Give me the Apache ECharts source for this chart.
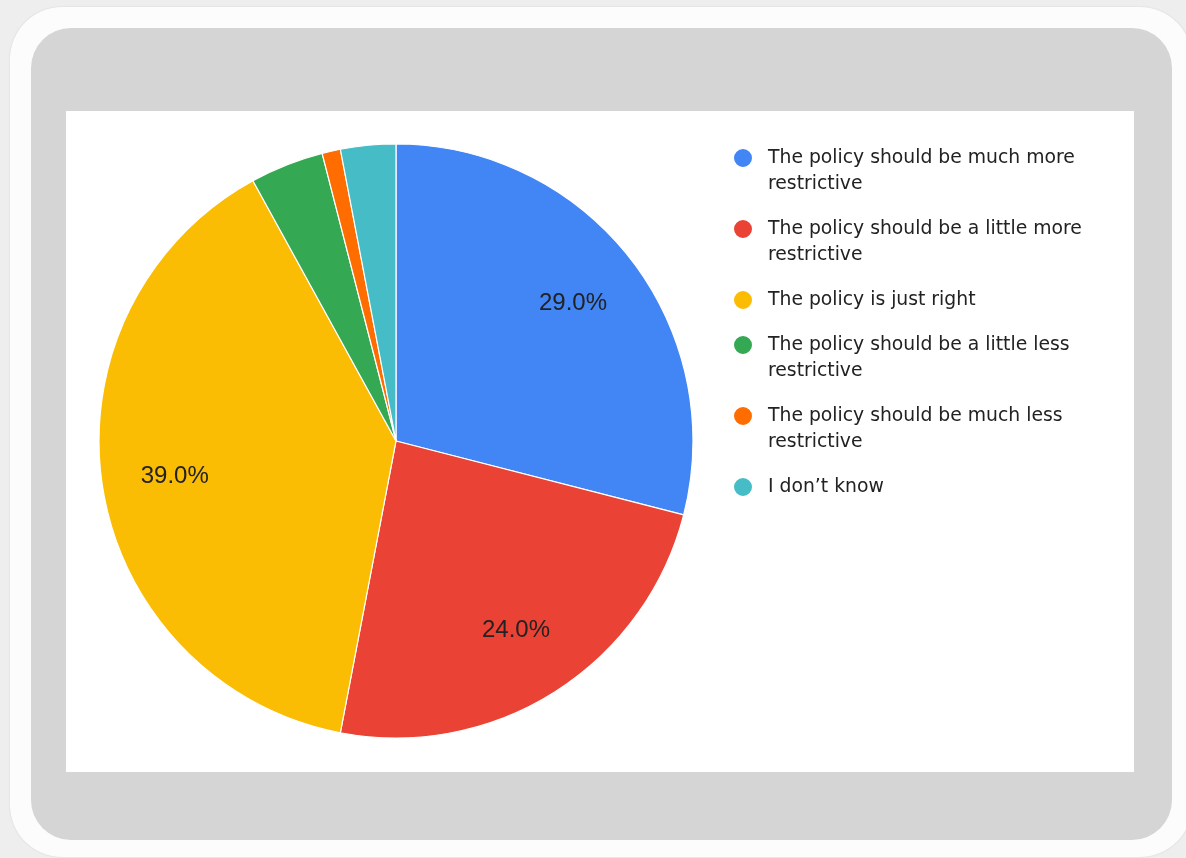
<!DOCTYPE html>
<html>
<head>
<meta charset="utf-8">
<script src="https://cdn.jsdelivr.net/npm/echarts@6/dist/echarts.min.js"></script>
<style>
  html, body { margin: 0; padding: 0; background: #eeeeee; width: 1186px; height: 858px; overflow: hidden; }
  #frame { position: absolute; left: 10px; top: 7px; width: 1182px; height: 850px; background: #fcfcfc;
           border-radius: 52px; box-shadow: 0 0 2px rgba(0,0,0,0.12); }
  #panel { position: absolute; left: 31px; top: 28px; width: 1141px; height: 812px; background: #d5d5d5; border-radius: 40px; }
  #chart { position: absolute; left: 66px; top: 111px; width: 1068px; height: 661px; background: #ffffff; }
</style>
</head>
<body>
<div id="frame"></div>
<div id="panel"></div>
<div id="chart"></div>
<script>
// Survey answers and their share of responses (%)
const categories = [
  'The policy should be much more restrictive',
  'The policy should be a little more restrictive',
  'The policy is just right',
  'The policy should be a little less restrictive',
  'The policy should be much less restrictive',
  'I don\u2019t know'
];
const shares = [29, 24, 39, 4, 1, 3];
const sliceColors = ['#4285f4', '#ea4335', '#fbbc04', '#34a853', '#ff6d01', '#46bdc6'];

// Greedy word wrap for legend entries
function wrapLabel(text, maxChars) {
  const words = text.split(' ');
  const lines = [];
  let line = '';
  words.forEach(w => {
    const test = line ? line + ' ' + w : w;
    if (test.length > maxChars && line) { lines.push(line); line = w; }
    else { line = test; }
  });
  if (line) lines.push(line);
  return lines;
}

// One legend block per answer so the dot sits on the first text line
const LINE_H = 26, ITEM_GAP = 19, FIRST_ICON_Y = 47, ICON_H = 20;
const legends = [];
let iconY = FIRST_ICON_Y;
categories.forEach(name => {
  const lines = wrapLabel(name, 34);
  const n = lines.length;
  // the text block is centred on the dot; blank lines above move the first line onto it
  const text = '\n'.repeat(n - 1) + lines.join('\n');
  legends.push({
    orient: 'vertical',
    left: 666,
    top: iconY - (2 * n - 1) * LINE_H / 2,
    padding: 0,
    itemWidth: 40,
    itemHeight: ICON_H,
    icon: 'circle',
    selectedMode: false,
    data: [name],
    formatter: () => text,
    textStyle: {
      fontFamily: 'DejaVu Sans',
      fontSize: 18.8,
      lineHeight: LINE_H,
      color: '#222222'
    }
  });
  iconY += n * LINE_H + ITEM_GAP;
});

const chart = echarts.init(document.getElementById('chart'), null, { renderer: 'canvas' });
chart.setOption({
  animation: false,
  color: sliceColors,
  legend: legends,
  series: [
    {
      type: 'pie',
      center: [330, 330],
      radius: [0, 297],
      startAngle: 90,
      clockwise: true,
      silent: true,
      label: { show: false },
      labelLine: { show: false },
      itemStyle: { borderColor: '#ffffff', borderWidth: 1.2 },
      data: categories.map((name, i) => ({ name: name, value: shares[i] }))
    },
    {
      // transparent ring used only to place the percentage labels
      type: 'pie',
      center: [330, 330],
      radius: [145, 297],
      startAngle: 90,
      clockwise: true,
      silent: true,
      avoidLabelOverlap: false,
      itemStyle: { color: 'rgba(0,0,0,0)' },
      labelLine: { show: false },
      label: {
        show: true,
        position: 'inside',
        fontFamily: 'Liberation Sans',
        fontSize: 24,
        color: '#222222',
        formatter: p => p.percent >= 5 ? p.value.toFixed(1) + '%' : ''
      },
      data: shares.map(v => ({ value: v }))
    }
  ]
});
</script>
</body>
</html>
